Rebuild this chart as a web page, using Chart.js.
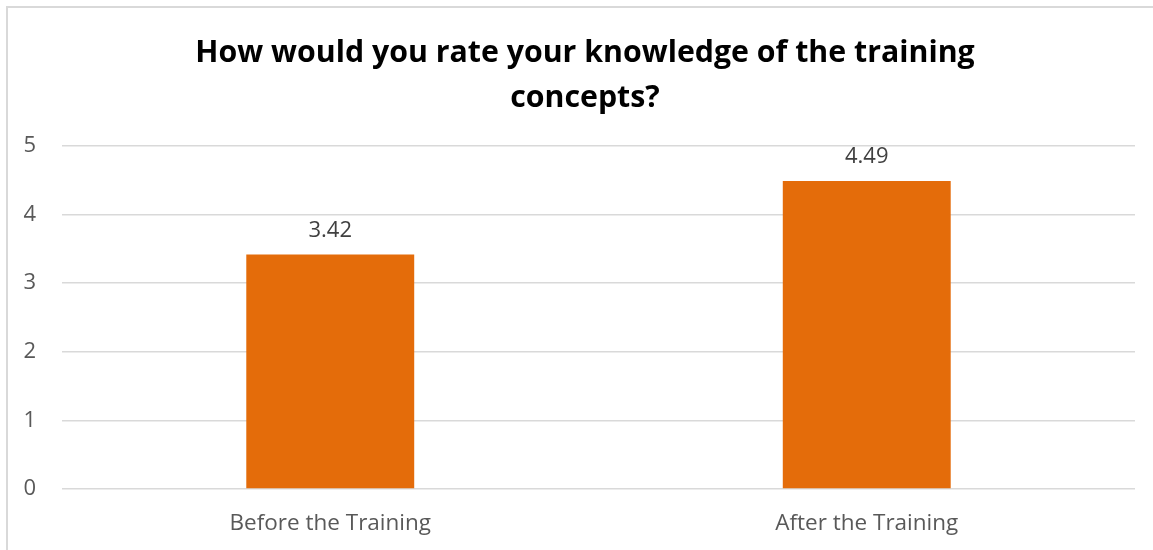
<!DOCTYPE html>
<html>
<head>
<meta charset="utf-8">
<script src="https://cdn.jsdelivr.net/npm/chart.js@4"></script>
<style>
html,body{margin:0;padding:0;background:#fff;}
#wrap{position:absolute;left:0;top:0;width:1153px;height:550px;}
</style>
</head>
<body>
<div id="wrap"><canvas id="c" width="1153" height="550"></canvas></div>
<script>
const categories = ["Before the Training", "After the Training"];
const values = [3.42, 4.49];
const yTicks = [0, 1, 2, 3, 4, 5];
const titleLines = ["How would you rate your knowledge of the training", "concepts?"];

const FONT = "'Open Sans', 'Noto Sans', sans-serif";

const borderPlugin = {
  id: 'border',
  beforeDraw(chart) {
    const ctx = chart.ctx;
    ctx.save();
    ctx.fillStyle = '#fff';
    ctx.fillRect(0, 0, chart.width, chart.height);
    ctx.strokeStyle = '#d9d9d9';
    ctx.lineWidth = 2;
    ctx.beginPath();
    ctx.moveTo(7, chart.height + 5);
    ctx.lineTo(7, 7);
    ctx.lineTo(chart.width + 5, 7);
    ctx.stroke();
    ctx.restore();
  }
};

const titleShift = {
  id: 'titleShift',
  afterLayout(chart) {
    if (chart.titleBlock) {
      chart.titleBlock.left = 35;
    }
  }
};

const labelPlugin = {
  id: 'valueLabels',
  afterDatasetsDraw(chart) {
    const ctx = chart.ctx;
    const meta = chart.getDatasetMeta(0);
    ctx.save();
    ctx.font = "22px " + FONT;
    ctx.fillStyle = '#404040';
    ctx.textAlign = 'center';
    ctx.textBaseline = 'middle';
    meta.data.forEach((bar, i) => {
      ctx.fillText(values[i].toFixed(2), bar.x, bar.y - 24);
    });
    ctx.restore();
  }
};

new Chart(document.getElementById('c'), {
  type: 'bar',
  data: {
    labels: categories,
    datasets: [{
      data: values,
      backgroundColor: '#E46C0A',
      borderWidth: 0,
      categoryPercentage: 1,
      barPercentage: 0.313
    }]
  },
  options: {
    responsive: false,
    animation: false,
    devicePixelRatio: 1,
    layout: { padding: { left: 0, right: 18, top: 0, bottom: 0 } },
    plugins: {
      legend: { display: false },
      tooltip: { enabled: false },
      title: {
        display: true,
        text: titleLines,
        color: '#000',
        font: { family: FONT, size: 30.3, weight: 'bold', lineHeight: 1.485 },
        padding: { top: 31, bottom: 25 }
      }
    },
    scales: {
      x: {
        grid: { display: false, drawTicks: false },
        border: { display: false },
        ticks: { color: '#595959', font: { family: FONT, size: 22.5 }, padding: 21 },
        afterFit(s) { s.height = 61; }
      },
      y: {
        min: 0, max: 5,
        afterBuildTicks(s) { s.ticks = yTicks.map(v => ({ value: v })); },
        grid: { color: '#d9d9d9', lineWidth: 1.5, drawTicks: false },
        border: { display: false },
        ticks: { color: '#595959', font: { family: FONT, size: 22 }, padding: 26 },
        afterFit(s) { s.width = 62; }
      }
    }
  },
  plugins: [borderPlugin, titleShift, labelPlugin]
});
</script>
</body>
</html>
